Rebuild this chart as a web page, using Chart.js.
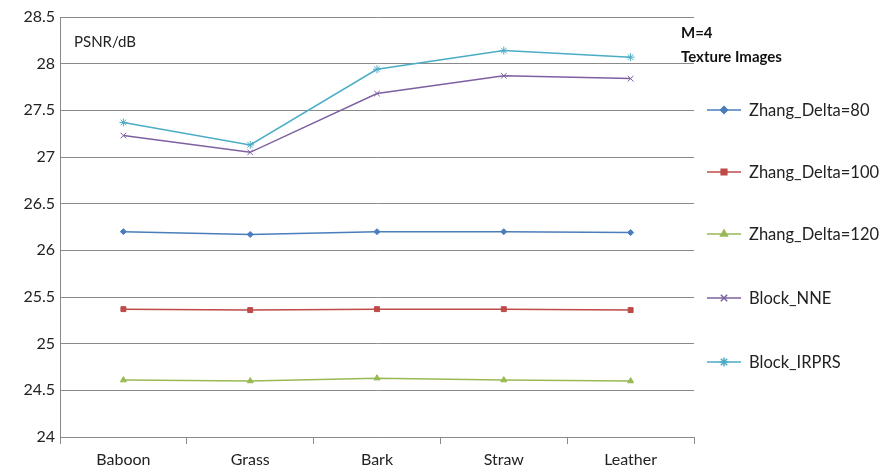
<!DOCTYPE html>
<html>
<head>
<meta charset="utf-8">
<script src="https://cdn.jsdelivr.net/npm/chart.js@4/dist/chart.umd.min.js"></script>
<style>
  html, body { margin: 0; padding: 0; background: #fff; }
  #wrap { width: 895px; height: 473px; }
</style>
</head>
<body>
<div id="wrap"><canvas id="psnrChart" width="895" height="473"></canvas></div>
<script>
// dati
const images = ['Baboon', 'Grass', 'Bark', 'Straw', 'Leather'];
const zhang80 = [26.20, 26.17, 26.20, 26.20, 26.19];
const zhang100 = [25.37, 25.36, 25.37, 25.37, 25.36];
const zhang120 = [24.61, 24.60, 24.63, 24.61, 24.60];
const blockNNE = [27.23, 27.05, 27.68, 27.87, 27.84];
const blockIRPRS = [27.37, 27.13, 27.94, 28.14, 28.07];
const yTicks = [24, 24.5, 25, 25.5, 26, 26.5, 27, 27.5, 28, 28.5];
const yLabels = ['24', '24.5', '25', '25.5', '26', '26.5', '27', '27.5', '28', '28.5'];

const FONT = 'Lato, "Open Sans", sans-serif';

function serie(label, data, color, style, radius) {
    return {
        label: label,
        data: data,
        borderColor: color,
        backgroundColor: color,
        borderWidth: 1.5,
        pointStyle: style,
        pointRadius: radius,
        pointBorderWidth: 1,
        tension: 0
    };
}

// legenda a destra, disegnata a mano
const sideLegend = {
    id: 'sideLegend',
    afterDraw(chart) {
        const ctx = chart.ctx;
        ctx.save();
        ctx.fillStyle = '#111';
        ctx.font = 'bold 15px ' + FONT;
        ctx.textAlign = 'left';
        ctx.textBaseline = 'middle';
        ctx.fillText('M=4', 681, 33);
        ctx.fillText('Texture Images', 681, 57);

        // testo interno al grafico
        ctx.font = '15px ' + FONT;
        ctx.fillStyle = '#222';
        ctx.fillText('PSNR/dB', 74, 42);

        const rows = [110, 172, 234, 298, 362];
        chart.data.datasets.forEach((ds, i) => {
            const y = rows[i];
            ctx.strokeStyle = ds.borderColor;
            ctx.lineWidth = 1.5;
            ctx.beginPath();
            ctx.moveTo(707, y);
            ctx.lineTo(741, y);
            ctx.stroke();
            Chart.helpers.drawPoint(ctx, {
                pointStyle: ds.pointStyle,
                radius: ds.pointRadius + 0.5,
                rotation: 0,
                borderWidth: 1
            }, 724, y);
            ctx.fillStyle = ds.borderColor;
            ctx.fill();
            ctx.fillStyle = '#222';
            ctx.font = '16.5px ' + FONT;
            ctx.fillText(ds.label, 749, y + 1);
        });
        ctx.restore();
    }
};

new Chart(document.getElementById('psnrChart'), {
    type: 'line',
    data: {
        labels: images,
        datasets: [
            serie('Zhang_Delta=80', zhang80, '#4a7ebb', 'rectRot', 3),
            serie('Zhang_Delta=100', zhang100, '#be4b48', 'rect', 3.5),
            serie('Zhang_Delta=120', zhang120, '#98b954', 'triangle', 3.5),
            serie('Block_NNE', blockNNE, '#7d60a0', 'crossRot', 4),
            serie('Block_IRPRS', blockIRPRS, '#4bacc6', 'star', 4)
        ]
    },
    options: {
        responsive: false,
        animation: false,
        layout: { padding: { top: 17, right: 201, left: 0, bottom: 0 } },
        plugins: {
            legend: { display: false },
            tooltip: { enabled: false }
        },
        scales: {
            x: {
                offset: true,
                afterFit(s) { s.height = 36; },
                grid: {
                    offset: true,
                    drawOnChartArea: false,
                    drawTicks: true,
                    tickLength: 7,
                    color: '#8a8a8a'
                },
                border: { color: '#8a8a8a', width: 1 },
                ticks: {
                    color: '#222',
                    font: { family: FONT, size: 16 },
                    padding: 6,
                    maxRotation: 0
                }
            },
            y: {
                min: 24,
                max: 28.5,
                afterFit(s) { s.width = 60; },
                afterBuildTicks(s) { s.ticks = yTicks.map(v => ({ value: v })); },
                grid: {
                    color: '#8a8a8a',
                    lineWidth: 1,
                    drawTicks: false
                },
                border: { color: '#8a8a8a', width: 1 },
                ticks: {
                    color: '#222',
                    font: { family: FONT, size: 16 },
                    padding: 5,
                    callback: (v, i) => yLabels[i]
                }
            }
        }
    },
    plugins: [sideLegend]
});
</script>
</body>
</html>
